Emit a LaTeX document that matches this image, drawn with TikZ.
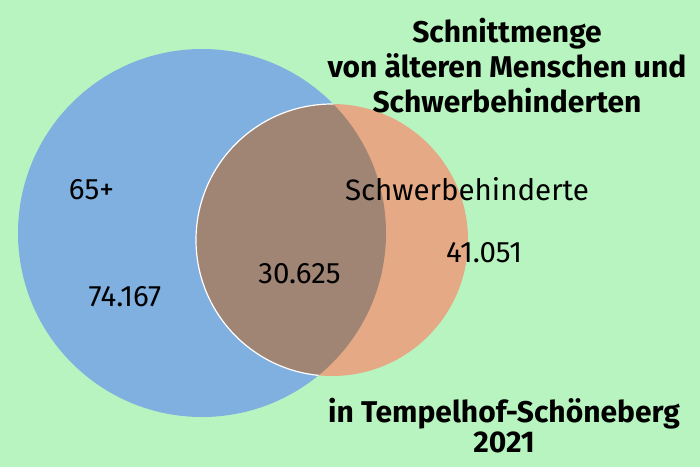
\documentclass[tikz,border=0pt]{standalone}
\usepackage{fontspec}
\setmainfont{Fira Sans}
\usepackage{tikz}
\usetikzlibrary{positioning}

\definecolor{bggreen}{HTML}{B8F4C0}
\definecolor{setblue}{HTML}{80B0E0}
\definecolor{setorange}{HTML}{E5AA85}
\definecolor{setboth}{HTML}{A08575}

\begin{document}
\begin{tikzpicture}[x=1pt, y=-1pt,
	every node/.style={inner sep=0pt, outer sep=0pt},
	setcircle/.style={circle, minimum size=#1},
	setlabel/.style={anchor=base, font=\fontsize{29.5}{34}\selectfont},
	titletext/.style={align=center, font=\bfseries\fontsize{30}{35}\selectfont}]
		\fill[bggreen] (0,0) rectangle (700,467);
		\useasboundingbox (0,0) rectangle (700,467);
		
		\node[setcircle=368pt, fill=setblue] (old) at (202,233) {};
		\node[setcircle=272pt, fill=setorange] (sb) at (332,240) {};
		
		% Schnittmenge
		\begin{scope}
			\clip (202,233) circle (184);
			\fill[setboth] (332,240) circle (136);
			\draw[white, line width=1.2pt] (332,240) circle (136);
		\end{scope}
		
		\node[setlabel] (l65) at (91.5,199) {65+};
		\node[setlabel] (lold) at (125,306) {74.167};
		\node[setlabel] (lboth) at (299.5,283) {30.625};
		\node[setlabel] (lsb) at (467,200) {Schwerbehinderte};
		\node[setlabel] (lsbnum) at (484,262) {41.051};
		
		\node[titletext, anchor=base] (title) at (507,112) {Schnittmenge\\von älteren Menschen und\\Schwerbehinderten};
		\node[titletext, anchor=base, font=\bfseries\fontsize{30}{30}\selectfont] (place) at (504,452) {in Tempelhof-Schöneberg\\2021};
		
\end{tikzpicture}
\end{document}
